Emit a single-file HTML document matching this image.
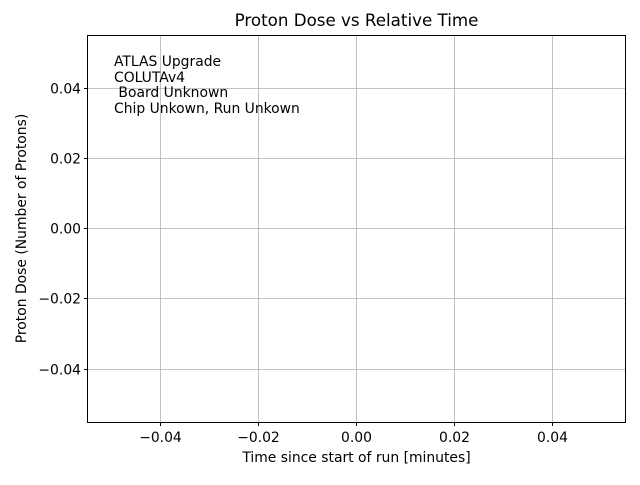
<!DOCTYPE html>
<html><head><style>body{margin:0;background:#fff}</style></head><body>
<svg width="640" height="480" xmlns="http://www.w3.org/2000/svg" font-family="DejaVu Sans, Liberation Sans, sans-serif" font-size="13.9">
<rect width="640" height="480" fill="#fff"/>
<g stroke="#b0b0b0" stroke-width="0.8">
<line x1="160.5" y1="35" x2="160.5" y2="422"/>
<line x1="258.5" y1="35" x2="258.5" y2="422"/>
<line x1="356.5" y1="35" x2="356.5" y2="422"/>
<line x1="454.5" y1="35" x2="454.5" y2="422"/>
<line x1="552.5" y1="35" x2="552.5" y2="422"/>
<line x1="88" y1="88.5" x2="626" y2="88.5"/>
<line x1="88" y1="158.5" x2="626" y2="158.5"/>
<line x1="88" y1="228.5" x2="626" y2="228.5"/>
<line x1="88" y1="298.5" x2="626" y2="298.5"/>
<line x1="88" y1="369.5" x2="626" y2="369.5"/>
</g>
<rect x="87.5" y="35.5" width="538" height="387" fill="none" stroke="#000" stroke-width="1"/>
<g stroke="#000">
<line x1="160.5" y1="422" x2="160.5" y2="426"/><line x1="258.5" y1="422" x2="258.5" y2="426"/><line x1="356.5" y1="422" x2="356.5" y2="426"/><line x1="454.5" y1="422" x2="454.5" y2="426"/><line x1="552.5" y1="422" x2="552.5" y2="426"/>
<line x1="84" y1="88.5" x2="88" y2="88.5"/><line x1="84" y1="158.5" x2="88" y2="158.5"/><line x1="84" y1="228.5" x2="88" y2="228.5"/><line x1="84" y1="298.5" x2="88" y2="298.5"/><line x1="84" y1="369.5" x2="88" y2="369.5"/>
</g>
<g text-anchor="middle">
<text x="160.5" y="442">−0.04</text><text x="258.5" y="442">−0.02</text><text x="356.5" y="442">0.00</text><text x="454.5" y="442">0.02</text><text x="552.5" y="442">0.04</text>
<text x="356.5" y="462">Time since start of run [minutes]</text>
<text x="356.5" y="26" font-size="16.7">Proton Dose vs Relative Time</text>
</g>
<g text-anchor="end">
<text x="81" y="93.5">0.04</text><text x="81" y="163.5">0.02</text><text x="81" y="233.5">0.00</text><text x="81" y="303.5">−0.02</text><text x="81" y="374.5">−0.04</text>
</g>
<text transform="translate(26,228.5) rotate(-90)" text-anchor="middle">Proton Dose (Number of Protons)</text>
<g>
<text x="114" y="66">ATLAS Upgrade</text>
<text x="114" y="82">COLUTAv4</text>
<text x="114" y="97" xml:space="preserve"> Board Unknown</text>
<text x="114" y="113">Chip Unkown, Run Unkown</text>
</g>
</svg>
</body></html>
